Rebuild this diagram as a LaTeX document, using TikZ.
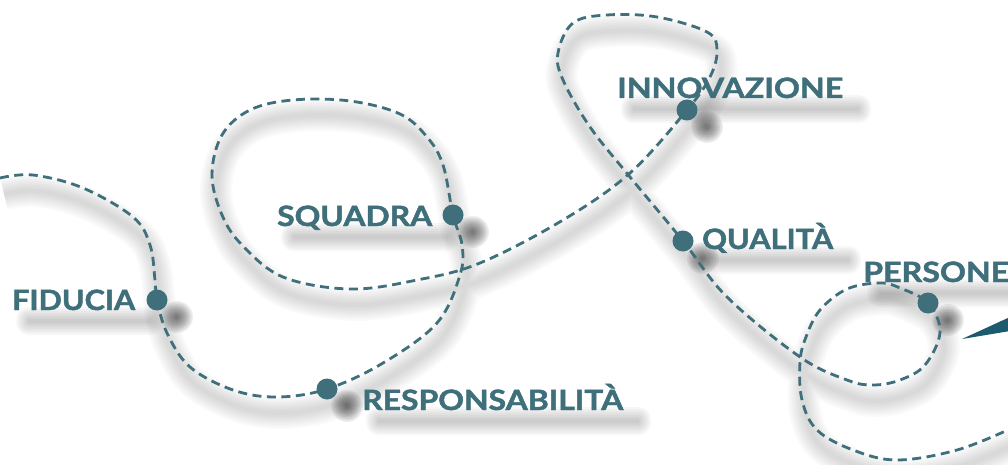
\documentclass[tikz,border=0pt]{standalone}
\usepackage{fontspec}
\setmainfont{Lato}
\newfontfamily\lblfont{Lato}[BoldFeatures={FakeBold=1.6}]
\usepackage{graphicx}
\definecolor{tealmain}{RGB}{62,111,122}
\definecolor{tealdark}{RGB}{28,90,110}
\newcommand\tshadow[3]{%
  \foreach \r in {12,10,...,0}{%
    \fill[black, opacity=0.032, rounded corners=\r pt+0.5pt]
      (#1+16-\r, #2+20-2-\r) rectangle (#1+16+#3+\r, #2+20+2+\r);}}
\newcommand\dshadow[1]{%
  \foreach \r in {16,14.5,...,2}{%
    \fill[black, opacity=0.065] ([shift={(20,17)}]#1) circle (\r pt);}}
\newcommand\lbltext[2]{\resizebox{#1pt}{\height}{#2}}
\begin{document}
\begin{tikzpicture}[x=1pt,y=-1pt,
  route/.style={draw=tealmain, line width=2.8pt, dash pattern=on 9pt off 5.5pt},
  dotnode/.style={circle, fill=tealmain, minimum size=21pt, inner sep=0pt},
  lbl/.style={text=tealmain, font=\lblfont\bfseries\fontsize{28}{28}\selectfont, inner sep=0pt, anchor=base west},
]
\useasboundingbox (0,0) rectangle (1008,465);
\clip (0,0) rectangle (1008,465);
\coordinate (fid) at (157,300);
\coordinate (resp) at (327,389);
\coordinate (squ) at (453,215);
\coordinate (inn) at (687,110);
\coordinate (qual) at (683,241);
\coordinate (pers) at (928,303);
% curve shadow
\begin{scope}[transform canvas={shift={(4,16)}}]
\foreach \w in {32,28,...,4}{
\draw[line width=\w pt, black, opacity=0.02, line join=round]
 plot[smooth, tension=0.6] coordinates {(0,178) (33,175) (83,188) (133,217) (150,245) (155,280) (fid) (167,333) (190,367) (233,390) (277,397) (resp) (383,363) (437,323) (460,275) (462,245) (squ) (443,165) (427,137) (400,114) (350,101) (293,100) (250,110) (222,135) (212,175) (222,215) (242,245) (283,277) (350,289) (417,280) (480,263) (563,220) (630,173) (inn) (710,77) (717,50) (707,32) (657,17) (607,15) (573,23) (558,53) (563,80) (590,127) (630,177) (qual) (727,297) (800,357) (847,380) (873,385) (900,380) (925,365) (940,332) (pers) (900,288) (880,283) (847,289) (820,310) (806,337) (800,362) (802,400) (817,430) (853,450) (897,460) (957,450) (1010,429)};
}
\end{scope}
% text shadows
\tshadow{12}{301}{123}
\tshadow{277}{217}{155}
\tshadow{617}{89}{226}
\tshadow{702}{240}{131}
\tshadow{863}{273}{146}
\tshadow{362}{401}{261}
% dot shadows
\dshadow{fid}\dshadow{resp}\dshadow{squ}\dshadow{inn}\dshadow{qual}\dshadow{pers}
% the route
\draw[route] plot[smooth, tension=0.6] coordinates {(0,178) (33,175) (83,188) (133,217) (150,245) (155,280) (fid) (167,333) (190,367) (233,390) (277,397) (resp) (383,363) (437,323) (460,275) (462,245) (squ) (443,165) (427,137) (400,114) (350,101) (293,100) (250,110) (222,135) (212,175) (222,215) (242,245) (283,277) (350,289) (417,280) (480,263) (563,220) (630,173) (inn) (710,77) (717,50) (707,32) (657,17) (607,15) (573,23) (558,53) (563,80) (590,127) (630,177) (qual) (727,297) (800,357) (847,380) (873,385) (900,380) (925,365) (940,332) (pers) (900,288) (880,283) (847,289) (820,310) (806,337) (800,362) (802,400) (817,430) (853,450) (897,460) (957,450) (1010,429)};
% dots
\node[dotnode] (dFid) at (fid) {};
\node[dotnode] (dResp) at (resp) {};
\node[dotnode] (dSqu) at (squ) {};
\node[dotnode] (dInn) at (inn) {};
\node[dotnode] (dQual) at (qual) {};
\node[dotnode] (dPers) at (pers) {};
% labels
\node[lbl] (tFid) at (12,310) {\lbltext{123}{FIDUCIA}};
\node[lbl] (tSqu) at (277,226) {\lbltext{155}{SQUADRA}};
\node[lbl] (tInn) at (617,98) {\lbltext{226}{INNOVAZIONE}};
\node[lbl] (tQual) at (702,249) {\lbltext{131}{QUALITÀ}};
\node[lbl] (tPers) at (863,282) {\lbltext{146}{PERSONE}};
\node[lbl] (tResp) at (362,410) {\lbltext{261}{RESPONSABILITÀ}};
% pointer
\fill[tealdark] (962,339) -- (1010,317) -- (1010,331) -- cycle;
\end{tikzpicture}
\end{document}
